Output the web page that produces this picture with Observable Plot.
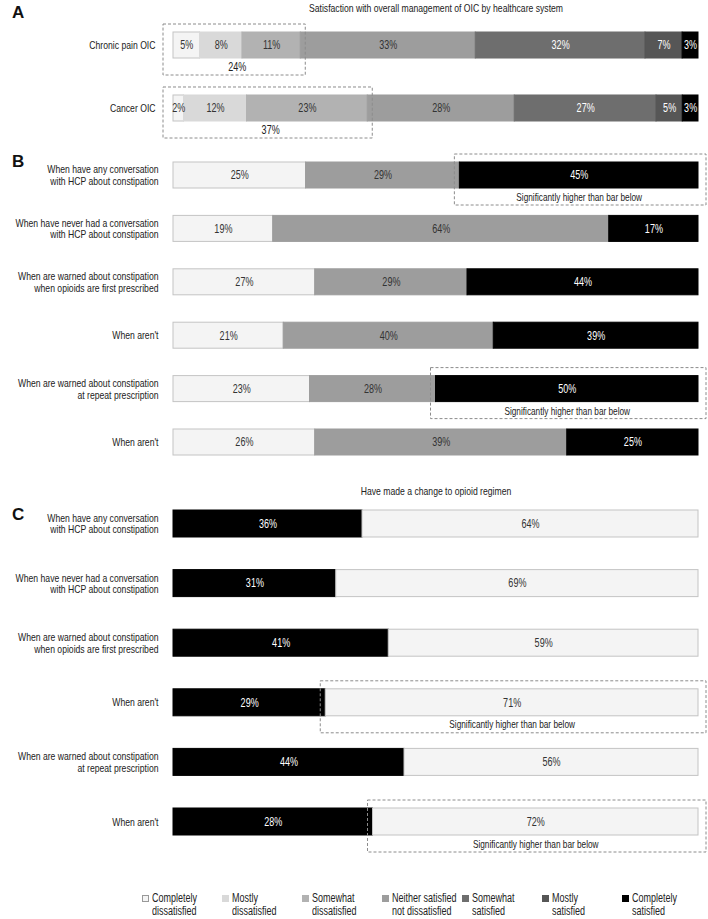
<!DOCTYPE html>
<html>
<head>
<meta charset="utf-8">
<script src="https://cdn.jsdelivr.net/npm/d3@7"></script>
<script src="https://cdn.jsdelivr.net/npm/@observablehq/plot@0.6"></script>
<style>
  body { margin: 0; background: #fff; }
  #root { position: relative; width: 708px; height: 919px; overflow: hidden;
          font-family: "Liberation Sans", Arial, sans-serif; color: #222; }
  .panel { position: absolute; left: 0; }
  .letter { position: absolute; left: 12px; font: bold 17px "Liberation Sans", Arial, sans-serif; color: #111; line-height: 1; }
  #legend { position: absolute; left: 142px; top: 892px; display: flex; }
  .item { width: 80px; display: flex; align-items: flex-start; font-size: 12px; line-height: 13px; color: #222; }
  .sw { width: 7px; height: 7px; margin: 3px 3px 0 0; flex: none; box-sizing: border-box; }
  .txt { white-space: pre; transform: scaleX(0.75); transform-origin: left top; }
</style>
</head>
<body>
<div id="root"></div>
<script>
// ---------- data ----------
const satisfactionLevels = ["Completely\ndissatisfied", "Mostly\ndissatisfied", "Somewhat\ndissatisfied",
  "Neither satisfied\nnot dissatisfied", "Somewhat\nsatisfied", "Mostly\nsatisfied", "Completely\nsatisfied"];
const levelColors = ["#f4f4f4", "#d9d9d9", "#b2b2b2", "#9d9d9d", "#6e6e6e", "#565656", "#000000"];
const levelTextColors = ["#333", "#333", "#333", "#333", "#fff", "#fff", "#fff"];

const titleA = "Satisfaction with overall management of OIC by healthcare system";
const groupsA = ["Chronic pain OIC", "Cancer OIC"];
const chronicPainOIC = [5, 8, 11, 33, 32, 7, 3];
const cancerOIC = [2, 12, 23, 28, 27, 5, 3];
const dissatisfiedTotalA = [24, 37];   // sum of the three "dissatisfied" levels

const conditions = [
  "When have any conversation\nwith HCP about constipation",
  "When have never had a conversation\nwith HCP about constipation",
  "When are warned about constipation\nwhen opioids are first prescribed",
  "When aren't",
  "When are warned about constipation\nat repeat prescription",
  "When aren't"
];

// Panel B: dissatisfied / neither / satisfied
const bColors = ["#f4f4f4", "#9d9d9d", "#000000"];
const bTextColors = ["#333", "#333", "#fff"];
const bDissatisfiedLabel = [25, 19, 27, 21, 23, 26];
const bNeitherLabel      = [29, 64, 29, 40, 28, 39];
const bSatisfiedLabel    = [45, 17, 44, 39, 50, 25];
// bar lengths as drawn in the original (a few printed labels disagree with the drawn bars)
const bDissatisfiedDrawn = [25, 19, 27, 21, 26, 27];
const bNeitherDrawn      = [29, 64, 29, 40, 24, 48];
const bSatisfiedDrawn    = [45, 17, 44, 39, 50, 25];
const bSignificantRows = [0, 4];

// Panel C: made a change / did not
const titleC = "Have made a change to opioid regimen";
const cColors = ["#000000", "#f4f4f4"];
const cTextColors = ["#fff", "#333"];
const cChangedLabel    = [36, 31, 41, 29, 44, 28];
const cNotChangedLabel = [64, 69, 59, 71, 56, 72];
const cChangedDrawn    = [36, 31, 41, 29, 44, 38];
const cNotChangedDrawn = [64, 69, 59, 71, 56, 62];
const cSignificantRows = [3, 5];

const significanceNote = "Significantly higher than bar below";

// ---------- helpers ----------
const FONT = '"Liberation Sans", Arial, sans-serif';
const CONDENSE = 0.75;   // narrow face look
const LIGHT_STROKE = "#c4c4c4";

function segments(drawnRows, labelRows, colors, textColors) {
  const out = [];
  drawnRows.forEach((vals, row) => vals.forEach((v, j) => out.push({
    row, seg: j, value: v, label: labelRows[row][j] + "%",
    fill: colors[j], stroke: colors[j] === "#f4f4f4" ? LIGHT_STROKE : colors[j], textFill: textColors[j]
  })));
  return out;
}
function extent(vals, j0, j1) {
  const total = d3.sum(vals);
  return [d3.sum(vals.slice(0, j0)) / total, d3.sum(vals.slice(0, j1 + 1)) / total];
}

function panel({height, range, paddingInner, rowLabels, segs, boxes, boxInsetL, boxInsetR, noteSize, tickPadding, title, titleY}) {
  const marks = [
    Plot.barX(segs, Plot.stackX({x: "value", y: "row", offset: "normalize", fill: "fill", stroke: "stroke", strokeWidth: 1})),
    Plot.text(segs, Plot.stackX({x: "value", y: "row", offset: "normalize", text: "label", fill: "textFill", fontSize: 12})),
    Plot.barX(boxes, {x1: "x1", x2: "x2", y: "row", fill: "none", stroke: "#8c8c8c", strokeWidth: 1, strokeDasharray: "3,2",
      insetLeft: boxInsetL, insetRight: boxInsetR, insetTop: -8, insetBottom: -17}),
    Plot.text(boxes, {x: d => (d.x1 + d.x2) / 2, y: "row", text: "note", dy: 22, fontSize: noteSize, fill: "#222"}),
    Plot.axisY({tickSize: 0, tickPadding, tickFormat: i => rowLabels[i], label: null, fontSize: 11.5, lineHeight: 1.0, fill: "#222"})
  ];
  if (title) marks.push(Plot.text([title], {frameAnchor: "top", dy: titleY, fontSize: 11.5, fill: "#222", lineAnchor: "middle"}));
  return Plot.plot({
    width: 708, height,
    marginLeft: 173, marginRight: 10, marginTop: 0, marginBottom: 0,
    x: {domain: [0, 1], axis: null},
    y: {type: "band", domain: d3.range(rowLabels.length), range, paddingInner, paddingOuter: 0, align: 0.5, round: false, axis: null},
    color: {type: "identity"},
    style: {fontFamily: FONT, fontSize: "11px", color: "#222", background: "transparent", overflow: "visible"},
    marks
  });
}

// squeeze every rendered text horizontally to imitate the condensed face of the original
function condense(svg) {
  svg.querySelectorAll("text").forEach(t => {
    const spans = t.querySelectorAll("tspan");
    const targets = spans.length ? Array.from(spans) : [t];
    targets.forEach(el => {
      const w = el.getComputedTextLength();
      if (w > 0) {
        el.setAttribute("textLength", (w * CONDENSE).toFixed(2));
        el.setAttribute("lengthAdjust", "spacingAndGlyphs");
      }
    });
  });
}

const root = document.getElementById("root");
function place(node, top) {
  node.classList.add("panel"); node.style.top = top + "px"; root.appendChild(node); condense(node);
}

// ---------- panel A ----------
const rowsA = [chronicPainOIC, cancerOIC];
const boxesA = rowsA.map((vals, row) => {
  const [x1, x2] = extent(vals, 0, 2);
  return {row, x1, x2, note: dissatisfiedTotalA[row] + "%"};
});
place(panel({
  height: 145, range: [32, 121], paddingInner: 0.587, rowLabels: groupsA,
  segs: segments(rowsA, rowsA, levelColors, levelTextColors),
  boxes: boxesA, boxInsetL: -10, boxInsetR: -5, noteSize: 12, tickPadding: 18,
  title: titleA, titleY: 8
}), 0);

// ---------- panel B ----------
const drawnB = conditions.map((_, i) => [bDissatisfiedDrawn[i], bNeitherDrawn[i], bSatisfiedDrawn[i]]);
const labelB = conditions.map((_, i) => [bDissatisfiedLabel[i], bNeitherLabel[i], bSatisfiedLabel[i]]);
const boxesB = bSignificantRows.map(row => {
  const [x1, x2] = extent(drawnB[row], 2, 2);
  return {row, x1, x2, note: significanceNote};
});
place(panel({
  height: 325, range: [17, 310], paddingInner: 0.513, rowLabels: conditions,
  segs: segments(drawnB, labelB, bColors, bTextColors),
  boxes: boxesB, boxInsetL: -5, boxInsetR: -8, noteSize: 11, tickPadding: 15
}), 145);

// ---------- panel C ----------
const drawnC = conditions.map((_, i) => [cChangedDrawn[i], cNotChangedDrawn[i]]);
const labelC = conditions.map((_, i) => [cChangedLabel[i], cNotChangedLabel[i]]);
const boxesC = cSignificantRows.map(row => {
  const [x1, x2] = extent(drawnC[row], 1, 1);
  return {row, x1, x2, note: significanceNote};
});
place(panel({
  height: 405, range: [40, 365], paddingInner: 0.547, rowLabels: conditions,
  segs: segments(drawnC, labelC, cColors, cTextColors),
  boxes: boxesC, boxInsetL: -5, boxInsetR: -8, noteSize: 11, tickPadding: 15,
  title: titleC, titleY: 21
}), 470);

// ---------- panel letters ----------
[["A", 4], ["B", 153], ["C", 506]].forEach(([t, top]) => {
  const d = document.createElement("div");
  d.className = "letter"; d.textContent = t; d.style.top = top + "px";
  root.appendChild(d);
});

// ---------- legend ----------
const legend = document.createElement("div");
legend.id = "legend";
satisfactionLevels.forEach((name, i) => {
  const item = document.createElement("div");
  item.className = "item";
  const sw = document.createElement("div");
  sw.className = "sw";
  sw.style.background = levelColors[i];
  sw.style.border = "1px solid " + (i === 0 ? "#999" : levelColors[i]);
  const txt = document.createElement("div");
  txt.className = "txt";
  txt.textContent = name;
  item.appendChild(sw); item.appendChild(txt);
  legend.appendChild(item);
});
root.appendChild(legend);
</script>
</body>
</html>
